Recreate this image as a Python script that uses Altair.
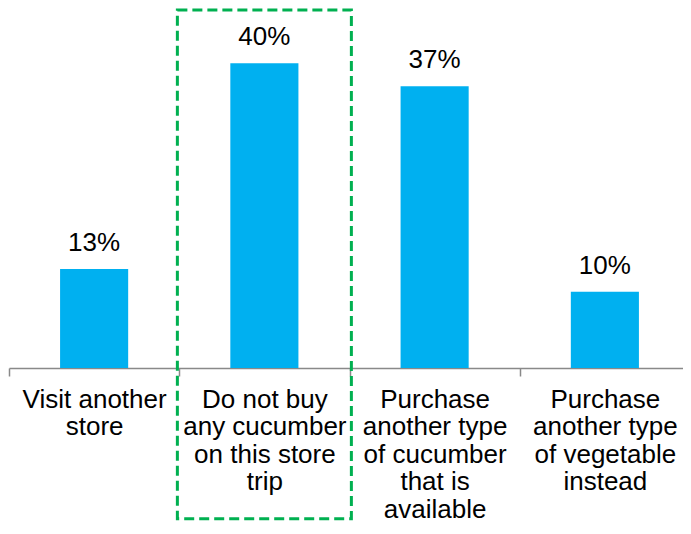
import altair as alt
import pandas as pd

categories = [
    "Visit another|store",
    "Do not buy|any cucumber|on this store|trip",
    "Purchase|another type|of cucumber|that is|available",
    "Purchase|another type|of vegetable|instead",
]
values = [13, 40, 37, 10]
highlight = ["Do not buy|any cucumber|on this store|trip"]

df = pd.DataFrame({"category": categories, "value": values})
hl = pd.DataFrame({"category": highlight, "top": [47], "bottom": [-19.8]})

FONT = "Liberation Sans"
x_scale = alt.Scale(domain=categories, paddingInner=0, paddingOuter=0)
y_scale = alt.Scale(domain=[0, 47], nice=False, zero=True)

x_enc = alt.X(
    "category:N",
    sort=categories,
    scale=x_scale,
    title=None,
    axis=alt.Axis(
        labelExpr="split(datum.label, '|')",
        labelAngle=0,
        labelFont=FONT,
        labelFontSize=26,
        labelColor="#000000",
        labelLineHeight=27.5,
        labelBaseline="top",
        labelPadding=10,
        labelLimit=400,
        labelOverlap=False,
        labelBound=False,
        tickBand="extent",
        tickSize=8,
        tickColor="#898989",
        tickWidth=1.5,
        domainColor="#898989",
        domainWidth=1.5,
        grid=False,
    ),
)

bars = alt.Chart(df).mark_bar(color="#00B0F0", width={"band": 0.4}).encode(
    x=x_enc,
    y=alt.Y("value:Q", scale=y_scale, axis=None),
)

labels = alt.Chart(df).transform_calculate(
    label="datum.value + '%'"
).mark_text(
    font=FONT, fontSize=26, color="#000000", baseline="bottom", dy=-13
).encode(
    x=alt.X("category:N", sort=categories, scale=x_scale),
    y=alt.Y("value:Q", scale=y_scale),
    text="label:N",
)

box = alt.Chart(hl).mark_bar(
    filled=False,
    stroke="#00B050",
    strokeWidth=3,
    strokeDash=[10, 5],
    width=174,
    clip=False,
).encode(
    x=alt.X("category:N", sort=categories, scale=x_scale),
    y=alt.Y("top:Q", scale=y_scale),
    y2="bottom:Q",
)

chart = alt.layer(bars, labels, box).properties(
    width=681,
    height=358,
    autosize=alt.AutoSizeParams(type="none"),
    padding={"left": 1, "top": 2, "right": -7, "bottom": 158},
).configure_view(stroke=None)

chart.save("out.html", embed_options={"renderer": "svg", "actions": False})
